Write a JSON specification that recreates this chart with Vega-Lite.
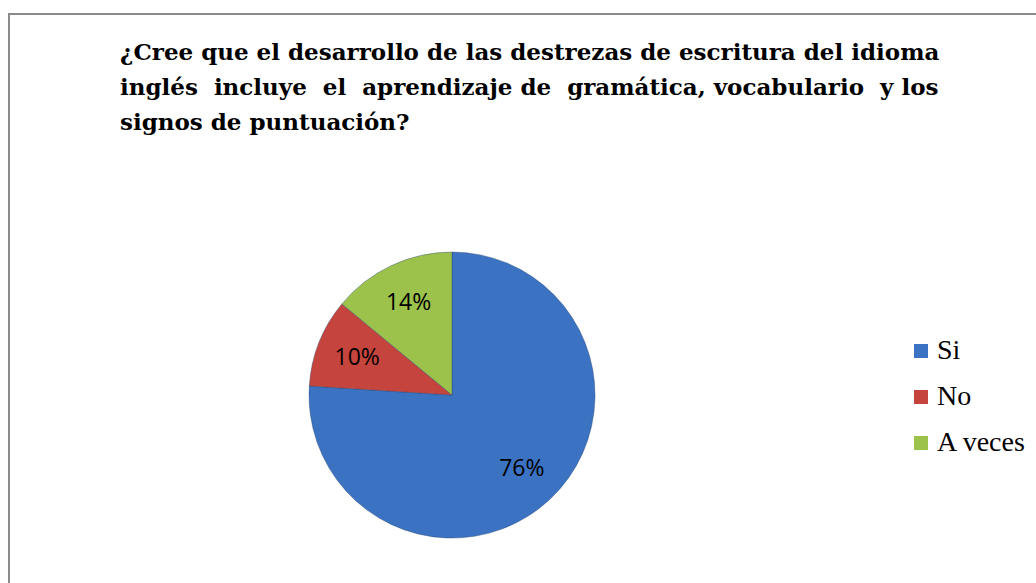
{
  "$schema": "https://vega.github.io/schema/vega-lite/v6.json",
  "width": 1031,
  "height": 580,
  "autosize": {"type": "none"},
  "padding": {"left": 9, "top": 14, "right": 0, "bottom": 0},
  "background": "white",
  "config": {"view": {"stroke": "#8a8a8a", "strokeWidth": 2}},
  "title": {
    "text": [
      "¿Cree que el desarrollo de las destrezas de escritura del  idioma",
      "inglés\u00a0 incluye\u00a0 el\u00a0 aprendizaje de\u00a0 gramática, vocabulario\u00a0 y los",
      "signos de puntuación?"
    ],
    "anchor": "start",
    "frame": "group",
    "dx": 111,
    "offset": -121,
    "font": "DejaVu Serif",
    "fontSize": 23,
    "fontWeight": "bold",
    "color": "black",
    "lineHeight": 35
  },
  "data": {
    "values": [
      {"respuesta": "Si", "porcentaje": 0.76, "orden": 1},
      {"respuesta": "No", "porcentaje": 0.10, "orden": 2},
      {"respuesta": "A veces", "porcentaje": 0.14, "orden": 3}
    ]
  },
  "encoding": {
    "theta": {"field": "porcentaje", "type": "quantitative", "stack": true},
    "order": {"field": "orden", "type": "quantitative"},
    "x": {"datum": 0.4297, "type": "quantitative", "scale": {"domain": [0, 1]}, "axis": null},
    "y": {"datum": 0.343, "type": "quantitative", "scale": {"domain": [0, 1]}, "axis": null}
  },
  "layer": [
    {
      "mark": {"type": "arc", "outerRadius": 143, "stroke": "#22406e", "strokeWidth": 0.8, "strokeOpacity": 0.5},
      "encoding": {
        "color": {
          "field": "respuesta",
          "type": "nominal",
          "sort": ["Si", "No", "A veces"],
          "scale": {"domain": ["Si", "No", "A veces"], "range": ["#3b73c2", "#c5443d", "#9cc24c"]},
          "legend": {
            "title": null,
            "orient": "none",
            "legendX": 898,
            "legendY": 323,
            "padding": 0,
            "symbolType": "square",
            "symbolSize": 196,
            "symbolStrokeWidth": 0,
            "labelFont": "Liberation Serif",
            "labelFontSize": 28,
            "labelColor": "black",
            "labelOffset": 2,
            "rowPadding": 18
          }
        }
      }
    },
    {
      "mark": {"type": "text", "radius": 102, "font": "Open Sans", "fontSize": 23, "fill": "black"},
      "encoding": {
        "text": {"field": "porcentaje", "type": "quantitative", "format": ".0%"}
      }
    }
  ]
}
